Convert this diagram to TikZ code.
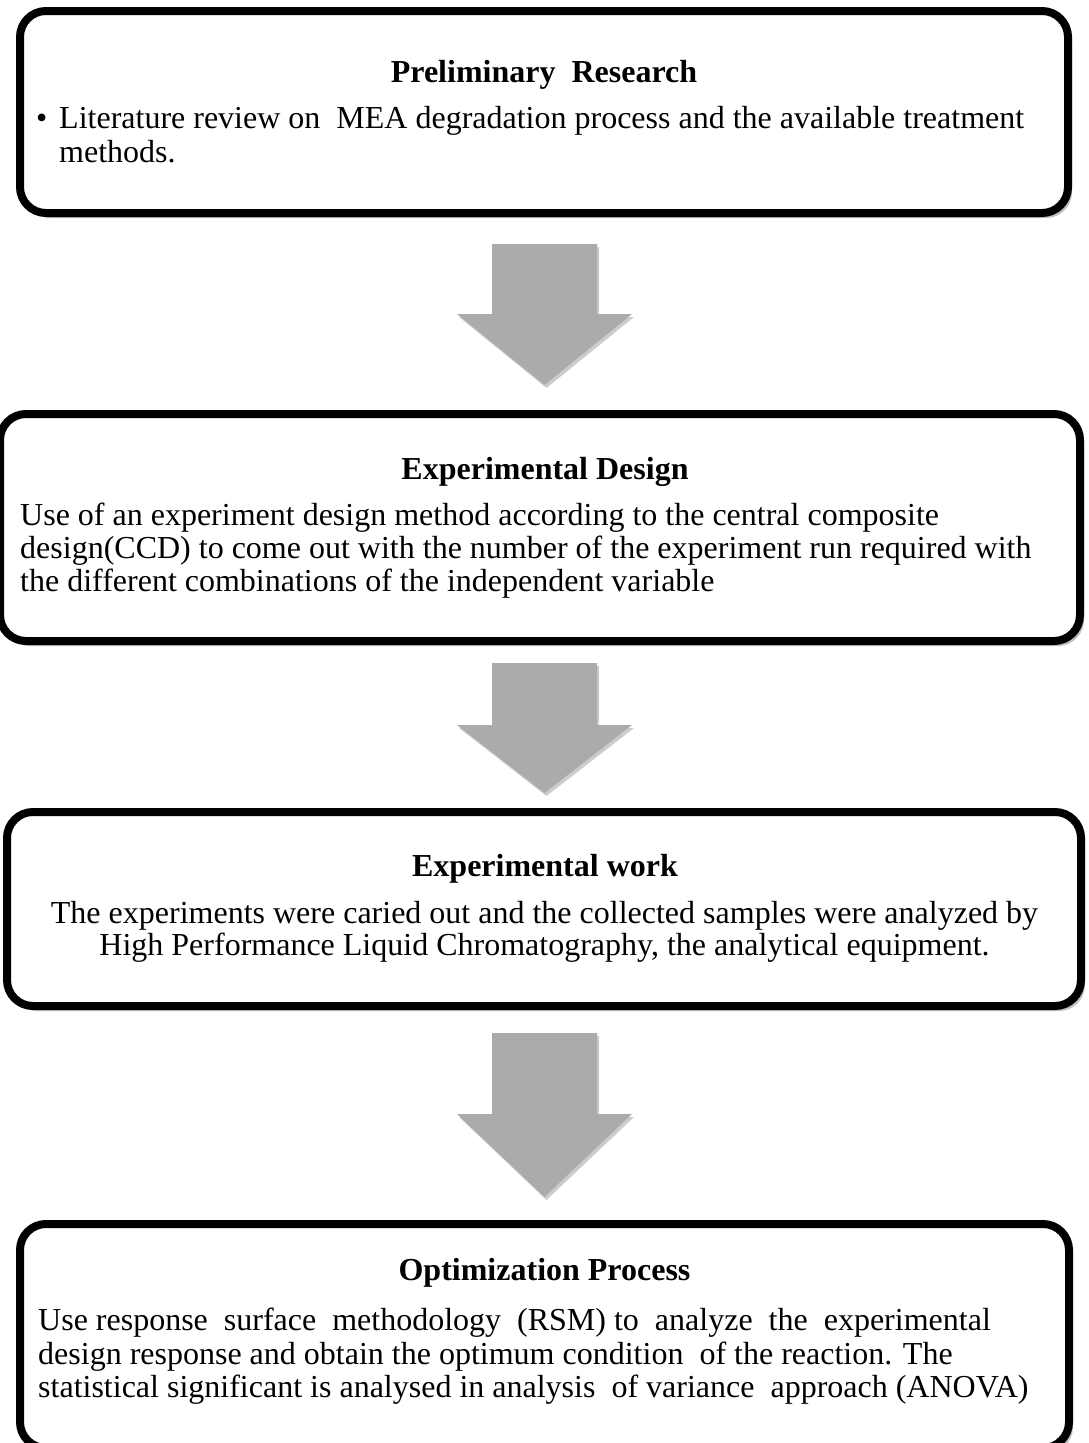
\documentclass[tikz,border=0pt]{standalone}
\usepackage{fontspec}
\setmainfont{Liberation Serif}
\usetikzlibrary{shadows}
\definecolor{arrowgray}{HTML}{ABABAB}
\tikzset{
  stage/.style={draw=black, line width=8pt, rounded corners=26pt, fill=white, inner sep=0pt,
    drop shadow={shadow xshift=4pt, shadow yshift=-5pt, opacity=0.25, fill=black}},
  blockarrow/.style={fill=arrowgray, draw=none,
    drop shadow={shadow xshift=2pt, shadow yshift=-3pt, opacity=0.2, fill=black}},
  titletext/.style={font=\fontsize{32}{33}\selectfont\bfseries, anchor=base, inner sep=0pt},
  bodytext/.style={font=\fontsize{32}{33}\selectfont, anchor=base west, inner sep=0pt},
  bodycentre/.style={font=\fontsize{32}{33}\selectfont, anchor=base, inner sep=0pt},
}
\newcommand{\myblockarrow}[3]{%
  \fill[blockarrow] (492,#1) -- (597,#1) -- (597,#2) -- (632,#2) -- (544.5,#3) -- (457,#2) -- (492,#2) -- cycle;}
\begin{document}
\begin{tikzpicture}[x=1pt,y=-1pt]
\useasboundingbox (0,0) rectangle (1088,1443);

% stage boxes
\node[stage, minimum width=1048pt, minimum height=202pt] (b1) at (544,112) {};
\node[stage, minimum width=1080pt, minimum height=227pt] (b2) at (540,527.5) {};
\node[stage, minimum width=1074pt, minimum height=194pt] (b3) at (544,909) {};
\node[stage, minimum width=1049pt, minimum height=224pt] (b4) at (544.5,1336) {};

% block arrows
\myblockarrow{244}{314}{385}
\myblockarrow{663}{725}{793}
\myblockarrow{1033}{1114}{1197}

% box 1
\node[titletext] (t1) at (544,82) {Preliminary\ \ Research};
\node[bodytext] (t1b) at (36,128) {\textbullet};
\node[bodytext] (t1l1) at (59,128) {Literature review on\ \ MEA degradation process and the available treatment};
\node[bodytext] (t1l2) at (59,162) {methods.};

% box 2
\node[titletext] (t2) at (545,479) {Experimental Design};
\node[bodytext] (t2l1) at (20,525) {Use of an experiment design method according to the central composite};
\node[bodytext] (t2l2) at (20,558) {design(CCD) to come out with the number of the experiment run required with};
\node[bodytext] (t2l3) at (20,591) {the different combinations of the independent variable};

% box 3
\node[titletext] (t3) at (545,876) {Experimental work};
\node[bodycentre] (t3l1) at (544.5,923) {The experiments were caried out and the collected samples were analyzed by};
\node[bodycentre] (t3l2) at (544.5,955) {High Performance Liquid Chromatography, the analytical equipment.};

% box 4
\node[titletext] (t4) at (544.5,1280) {Optimization Process};
\node[bodytext] (t4l1) at (38,1330) {Use response\ \ surface\ \ methodology\ \ (RSM) to\ \ analyze\ \ the\ \ experimental};
\node[bodytext] (t4l2) at (38,1364) {design response and obtain the optimum condition\ \ of the reaction. The};
\node[bodytext] (t4l3) at (38,1397) {statistical significant is analysed in analysis\ \ of variance\ \ approach (ANOVA)};
\end{tikzpicture}
\end{document}
